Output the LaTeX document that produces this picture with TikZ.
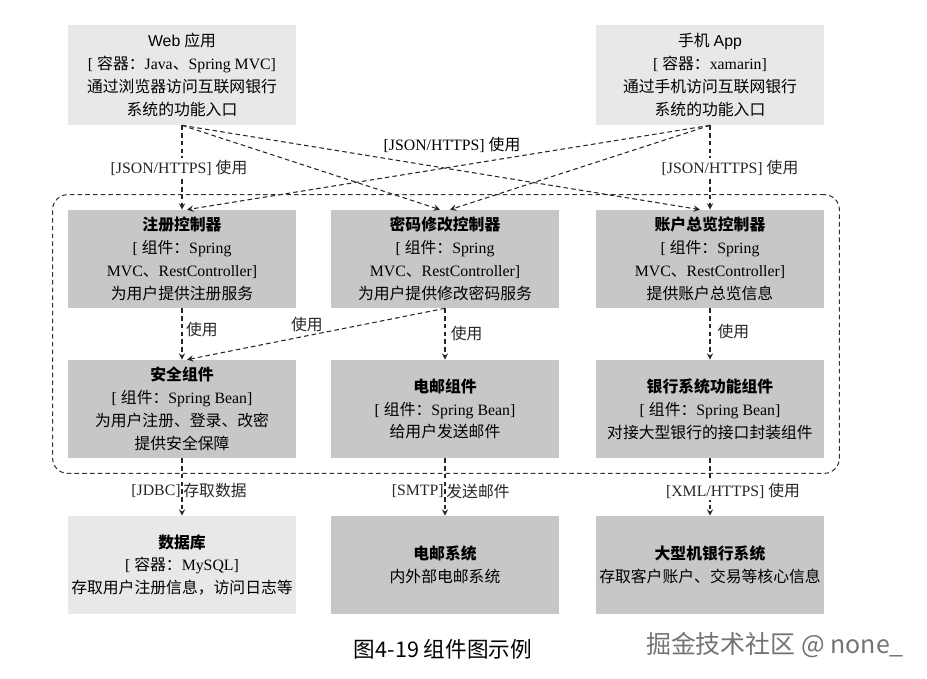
\documentclass[tikz,border=0pt]{standalone}
\usepackage{fontspec}
\setmainfont{Liberation Serif}
\setsansfont{Liberation Sans}
\newfontfamily\cjk{Noto Sans CJK SC}
\usepackage{xcolor}
\usepackage{tikz}
\usetikzlibrary{shapes,arrows,positioning,calc,fit}

\newcommand{\zh}[1]{{\cjk #1}}
\newcommand{\ttl}[1]{{\cjk\bfseries #1}}

\begin{document}
\begin{tikzpicture}[
    font=\fontsize{9pt}{13pt}\selectfont,
    extbox/.style={draw=none, fill=black!9, minimum width=4.56cm, minimum height=2.0cm, align=center, inner sep=0pt},
    compbox/.style={draw=none, fill=black!22, minimum width=4.56cm, minimum height=1.96cm, align=center, inner sep=0pt},
    bound/.style={draw=black!80, dash pattern=on 2.6pt off 1.8pt, rounded corners=0.3cm, inner sep=0.3cm, line width=0.6pt},
    arr/.style={->, >=stealth, black!85, dash pattern=on 2.6pt off 1.8pt, line width=0.6pt},
    lbl/.style={inner sep=1pt},
]
\useasboundingbox (0,0) rectangle (18.54,13.58);

% Containers (top)
\node[extbox] (web) at (3.64, 12.08) {{\sffamily Web} \zh{应用}\\{[} \zh{容器：}Java\zh{、}Spring MVC]\\\zh{通过浏览器访问互联网银行}\\\zh{系统的功能入口}};
\node[extbox] (app) at (14.2, 12.08) {\zh{手机} {\sffamily App}\\{[} \zh{容器：}xamarin]\\\zh{通过手机访问互联网银行}\\\zh{系统的功能入口}};

% Controllers
\node[compbox] (reg) at (3.64, 8.4) {\ttl{注册控制器}\\{[} \zh{组件：}Spring\\MVC\zh{、}RestController]\\\zh{为用户提供注册服务}};
\node[compbox] (pwd) at (8.9, 8.4) {\ttl{密码修改控制器}\\{[} \zh{组件：}Spring\\MVC\zh{、}RestController]\\\zh{为用户提供修改密码服务}};
\node[compbox] (acct) at (14.2, 8.4) {\ttl{账户总览控制器}\\{[} \zh{组件：}Spring\\MVC\zh{、}RestController]\\\zh{提供账户总览信息}};

% Components
\node[compbox] (sec) at (3.64, 5.4) {\ttl{安全组件}\\{[} \zh{组件：}Spring Bean]\\\zh{为用户注册、登录、改密}\\\zh{提供安全保障}};
\node[compbox] (mail) at (8.9, 5.4) {\ttl{电邮组件}\\{[} \zh{组件：}Spring Bean]\\\zh{给用户发送邮件}};
\node[compbox] (bank) at (14.2, 5.4) {\ttl{银行系统功能组件}\\{[} \zh{组件：}Spring Bean]\\\zh{对接大型银行的接口封装组件}};

% External systems (bottom)
\node[extbox, minimum height=1.96cm] (db) at (3.64, 2.28) {\ttl{数据库}\\{[} \zh{容器：}MySQL]\\\zh{存取用户注册信息，访问日志等}};
\node[compbox] (mailsys) at (8.9, 2.28) {\ttl{电邮系统}\\\zh{内外部电邮系统}};
\node[compbox] (mf) at (14.2, 2.28) {\ttl{大型机银行系统}\\\zh{存取客户账户、交易等核心信息}};

% Application boundary
\node[bound, fit=(reg)(acct)(sec)(bank)] (appbound) {};

% Edges: containers -> controllers
\draw[arr] (web.south) -- (reg.north)
    node[midway, lbl, fill=white, xshift=-0.06cm] {[JSON/HTTPS] \zh{使用}};
\draw[arr] (web.south) -- ([xshift=-0.1cm]pwd.north);
\draw[arr] (web.south) -- ([xshift=-0.2cm]acct.north);
\draw[arr] (app.south) -- (acct.north)
    node[midway, lbl, fill=white, xshift=0.4cm] {[JSON/HTTPS] \zh{使用}};
\draw[arr] (app.south) -- ([xshift=0.1cm]pwd.north);
\draw[arr] (app.south) -- ([xshift=0.1cm]reg.north);
\node[lbl] (jsonmid) at (9.04, 10.68) {[JSON/HTTPS] \zh{使用}};

% Edges: controllers -> components
\draw[arr] (reg.south) -- (sec.north)
    node[midway, right, inner sep=2pt, yshift=0.08cm] {\zh{使用}};
\draw[arr] (pwd.south) -- (mail.north)
    node[midway, right, inner sep=3pt] {\zh{使用}};
\draw[arr] (pwd.south) -- ([xshift=0.1cm]sec.north)
    node[pos=0.535, above, inner sep=2pt] {\zh{使用}};
\draw[arr] (acct.south) -- (bank.north)
    node[midway, right, inner sep=4pt, yshift=0.04cm] {\zh{使用}};

% Edges: components -> external systems
\draw[arr] (sec.south) -- (db.north)
    node[pos=0.57, left, inner sep=0.5pt] {[JDBC]}
    node[pos=0.57, right, inner sep=0.5pt] {\zh{存取数据}};
\draw[arr] (mail.south) -- (mailsys.north)
    node[pos=0.57, left, inner sep=0.5pt] {[SMTP]}
    node[pos=0.57, right, inner sep=0.5pt] {\zh{发送邮件}};
\draw[arr] (bank.south) -- (mf.north)
    node[pos=0.57, lbl, fill=white, xshift=0.46cm] {[XML/HTTPS] \zh{使用}};

% Caption and watermark
\node[font=\cjk\fontsize{12.3pt}{15pt}\selectfont] (caption) at (8.86, 0.6) {图4-19 组件图示例};
\node[font=\cjk\fontsize{14.2pt}{17pt}\selectfont, text=black!55] (mark) at (15.5, 0.68) {掘金技术社区 @ none\_};
\end{tikzpicture}
\end{document}
